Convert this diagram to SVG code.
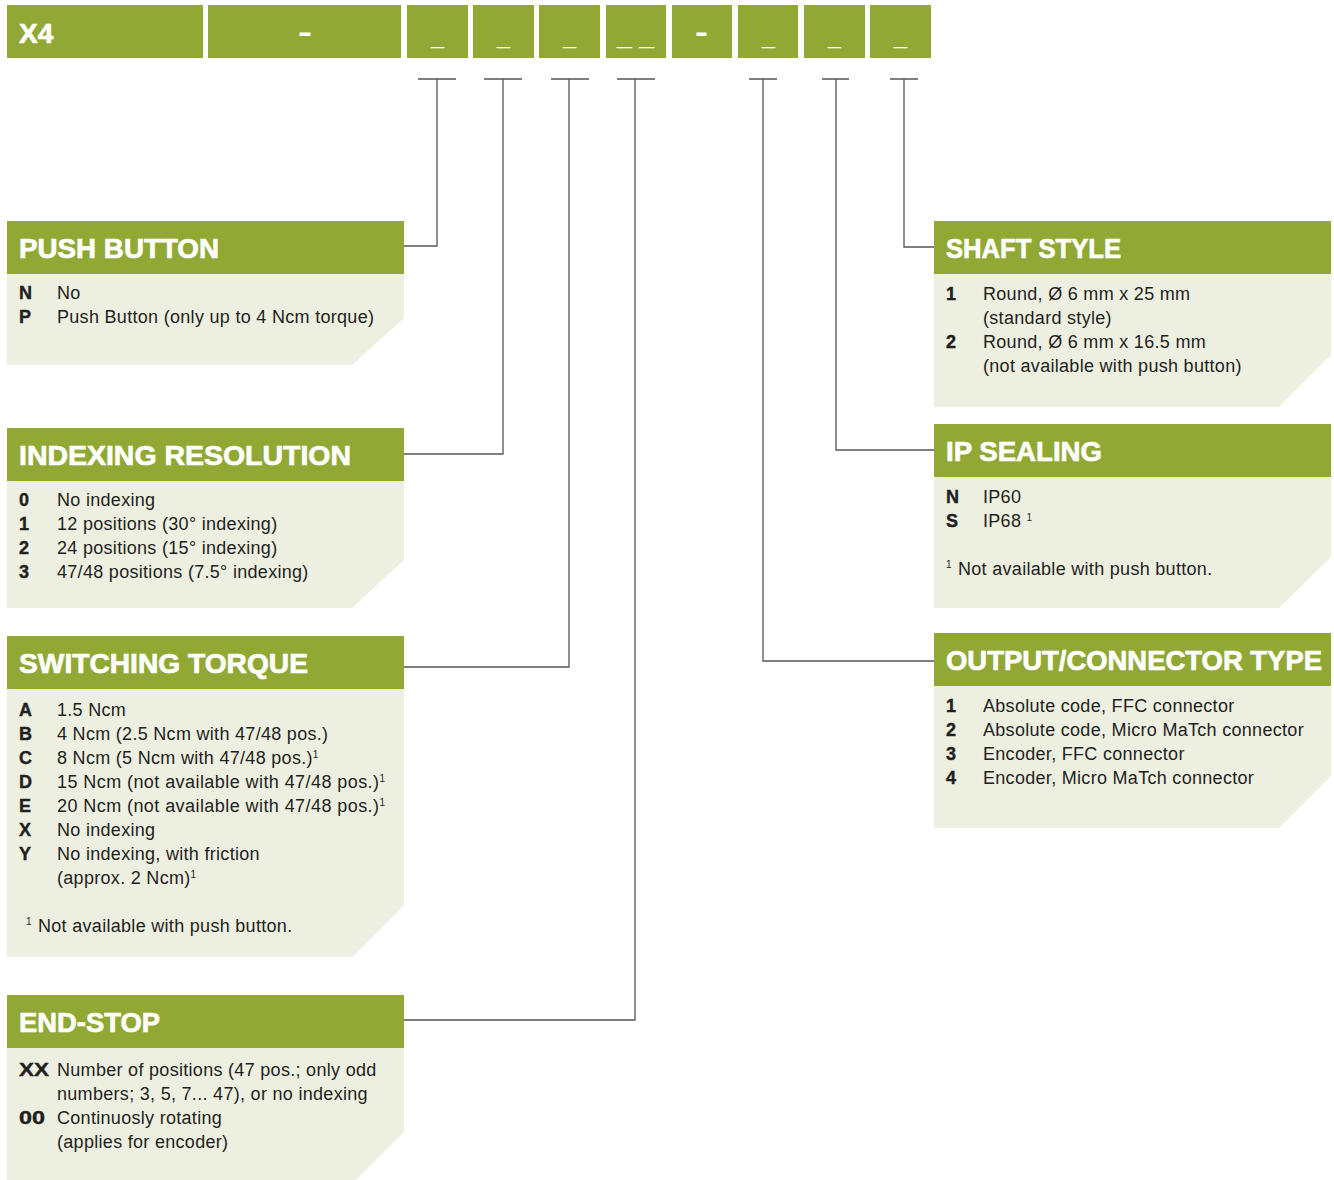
<svg xmlns="http://www.w3.org/2000/svg" width="1334" height="1180" viewBox="0 0 1334 1180">
<style>
.cell{fill:#92A834}
.hdr{fill:#92A834}
.body{fill:#EDEFE0}
.ttl{font-family:"Liberation Sans",Arial,sans-serif;font-weight:bold;font-size:28px;fill:#fff;stroke:#fff;stroke-width:0.7}
.code{font-family:"Liberation Sans",Arial,sans-serif;font-weight:bold;font-size:18px;fill:#231F20;stroke:#231F20;stroke-width:0.4}
.txt{font-family:"Liberation Sans",Arial,sans-serif;font-size:18px;letter-spacing:0.3px;fill:#231F20}
.sup{font-family:"Liberation Sans",Arial,sans-serif;font-size:10px;fill:#231F20;letter-spacing:0}
.mark{font-family:"Liberation Sans",Arial,sans-serif;font-size:20px;fill:#fff}
.dash{font-family:"Liberation Sans",Arial,sans-serif;font-weight:bold;font-size:30px;fill:#fff}
.conn{fill:none;stroke:#555;stroke-width:1.3}
</style>
<rect width="1334" height="1180" fill="#fff"/>
<g id="code-bar">
<rect class="cell" x="7" y="5" width="196" height="53"/>
<text class="ttl" x="19" y="43">X4</text>
<rect class="cell" x="208" y="5" width="193" height="53"/>
<text class="dash" x="298" y="42" textLength="14" lengthAdjust="spacingAndGlyphs">-</text>
<rect class="cell" x="407" y="5" width="61" height="53"/>
<text class="mark" x="431" y="44" textLength="13" lengthAdjust="spacingAndGlyphs">_</text>
<rect class="cell" x="473" y="5" width="61" height="53"/>
<text class="mark" x="497" y="44" textLength="13" lengthAdjust="spacingAndGlyphs">_</text>
<rect class="cell" x="539" y="5" width="61" height="53"/>
<text class="mark" x="563" y="44" textLength="13" lengthAdjust="spacingAndGlyphs">_</text>
<rect class="cell" x="606" y="5" width="60" height="53"/>
<text class="mark" x="617" y="44" textLength="37" lengthAdjust="spacingAndGlyphs">_ _</text>
<rect class="cell" x="672" y="5" width="60" height="53"/>
<text class="dash" x="695" y="42" textLength="13" lengthAdjust="spacingAndGlyphs">-</text>
<rect class="cell" x="738" y="5" width="60" height="53"/>
<text class="mark" x="762" y="44" textLength="13" lengthAdjust="spacingAndGlyphs">_</text>
<rect class="cell" x="804" y="5" width="61" height="53"/>
<text class="mark" x="828" y="44" textLength="13" lengthAdjust="spacingAndGlyphs">_</text>
<rect class="cell" x="870" y="5" width="61" height="53"/>
<text class="mark" x="894" y="44" textLength="13" lengthAdjust="spacingAndGlyphs">_</text>
</g>
<g id="connectors">
<path class="conn" d="M418,79 H456 M437,79 V246 H404"/>
<path class="conn" d="M484,79 H522 M503,79 V454 H404"/>
<path class="conn" d="M551,79 H589 M569,79 V667 H404"/>
<path class="conn" d="M617,79 H655 M635,79 V1020 H404"/>
<path class="conn" d="M749,79 H777 M763,79 V661 H934"/>
<path class="conn" d="M822,79 H849 M836,79 V450 H934"/>
<path class="conn" d="M890,79 H918 M904,79 V247 H934"/>
</g>
<g id="push-button">
<rect class="hdr" x="7" y="221" width="397" height="53"/>
<path class="body" d="M7,274 H404 V318 L352,365 H7 Z"/>
<text class="ttl" x="19" y="258" textLength="200" lengthAdjust="spacingAndGlyphs">PUSH BUTTON</text>
<text class="code" x="19" y="299">N</text><text class="txt" x="57" y="299">No</text>
<text class="code" x="19" y="323">P</text><text class="txt" x="57" y="323">Push Button (only up to 4 Ncm torque)</text>
</g>
<g id="indexing-resolution">
<rect class="hdr" x="7" y="428" width="397" height="53"/>
<path class="body" d="M7,481 H404 V560 L352,608 H7 Z"/>
<text class="ttl" x="19" y="465" textLength="332" lengthAdjust="spacingAndGlyphs">INDEXING RESOLUTION</text>
<text class="code" x="19" y="506">0</text><text class="txt" x="57" y="506">No indexing</text>
<text class="code" x="19" y="530">1</text><text class="txt" x="57" y="530">12 positions (30° indexing)</text>
<text class="code" x="19" y="554">2</text><text class="txt" x="57" y="554">24 positions (15° indexing)</text>
<text class="code" x="19" y="578">3</text><text class="txt" x="57" y="578">47/48 positions (7.5° indexing)</text>
</g>
<g id="switching-torque">
<rect class="hdr" x="7" y="636" width="397" height="53"/>
<path class="body" d="M7,689 H404 V905 L352,957 H7 Z"/>
<text class="ttl" x="19" y="673" textLength="289" lengthAdjust="spacingAndGlyphs">SWITCHING TORQUE</text>
<text class="code" x="19" y="716">A</text><text class="txt" x="57" y="716">1.5 Ncm</text>
<text class="code" x="19" y="740">B</text><text class="txt" x="57" y="740">4 Ncm (2.5 Ncm with 47/48 pos.)</text>
<text class="code" x="19" y="764">C</text><text class="txt" x="57" y="764">8 Ncm (5 Ncm with 47/48 pos.)<tspan class="sup" dy="-6">1</tspan></text>
<text class="code" x="19" y="788">D</text><text class="txt" x="57" y="788" textLength="328">15 Ncm (not available with 47/48 pos.)<tspan class="sup" dy="-6">1</tspan></text>
<text class="code" x="19" y="812">E</text><text class="txt" x="57" y="812" textLength="328">20 Ncm (not available with 47/48 pos.)<tspan class="sup" dy="-6">1</tspan></text>
<text class="code" x="19" y="836">X</text><text class="txt" x="57" y="836">No indexing</text>
<text class="code" x="19" y="860">Y</text><text class="txt" x="57" y="860">No indexing, with friction</text>
<text class="txt" x="57" y="884">(approx. 2 Ncm)<tspan class="sup" dy="-6">1</tspan></text>
<text class="sup" x="26" y="925">1</text><text class="txt" x="38" y="932">Not available with push button.</text>
</g>
<g id="end-stop">
<rect class="hdr" x="7" y="995" width="397" height="53"/>
<path class="body" d="M7,1048 H404 V1132 L352,1184 H7 Z"/>
<text class="ttl" x="19" y="1032" textLength="141" lengthAdjust="spacingAndGlyphs">END-STOP</text>
<text class="code" x="19" y="1076" textLength="30" lengthAdjust="spacingAndGlyphs">XX</text><text class="txt" x="57" y="1076">Number of positions (47 pos.; only odd</text>
<text class="txt" x="57" y="1100">numbers; 3, 5, 7... 47), or no indexing</text>
<text class="code" x="19" y="1124" textLength="26" lengthAdjust="spacingAndGlyphs">00</text><text class="txt" x="57" y="1124">Continuosly rotating</text>
<text class="txt" x="57" y="1148">(applies for encoder)</text>
</g>
<g id="shaft-style">
<rect class="hdr" x="934" y="221" width="397" height="53"/>
<path class="body" d="M934,274 H1331 V355 L1279,407 H934 Z"/>
<text class="ttl" x="946" y="258" textLength="175" lengthAdjust="spacingAndGlyphs">SHAFT STYLE</text>
<text class="code" x="946" y="300">1</text><text class="txt" x="983" y="300">Round, Ø 6 mm x 25 mm</text>
<text class="txt" x="983" y="324">(standard style)</text>
<text class="code" x="946" y="348">2</text><text class="txt" x="983" y="348">Round, Ø 6 mm x 16.5 mm</text>
<text class="txt" x="983" y="372">(not available with push button)</text>
</g>
<g id="ip-sealing">
<rect class="hdr" x="934" y="424" width="397" height="53"/>
<path class="body" d="M934,477 H1331 V557 L1279,608 H934 Z"/>
<text class="ttl" x="946" y="461" textLength="156" lengthAdjust="spacingAndGlyphs">IP SEALING</text>
<text class="code" x="946" y="503">N</text><text class="txt" x="983" y="503">IP60</text>
<text class="code" x="946" y="527">S</text><text class="txt" x="983" y="527">IP68 <tspan class="sup" dy="-6">1</tspan></text>
<text class="sup" x="946" y="568">1</text><text class="txt" x="958" y="575">Not available with push button.</text>
</g>
<g id="output-connector-type">
<rect class="hdr" x="934" y="633" width="397" height="53"/>
<path class="body" d="M934,686 H1331 V776 L1279,828 H934 Z"/>
<text class="ttl" x="946" y="670" textLength="376" lengthAdjust="spacingAndGlyphs">OUTPUT/CONNECTOR TYPE</text>
<text class="code" x="946" y="712">1</text><text class="txt" x="983" y="712">Absolute code, FFC connector</text>
<text class="code" x="946" y="736">2</text><text class="txt" x="983" y="736">Absolute code, Micro MaTch connector</text>
<text class="code" x="946" y="760">3</text><text class="txt" x="983" y="760">Encoder, FFC connector</text>
<text class="code" x="946" y="784">4</text><text class="txt" x="983" y="784">Encoder, Micro MaTch connector</text>
</g>
</svg>
